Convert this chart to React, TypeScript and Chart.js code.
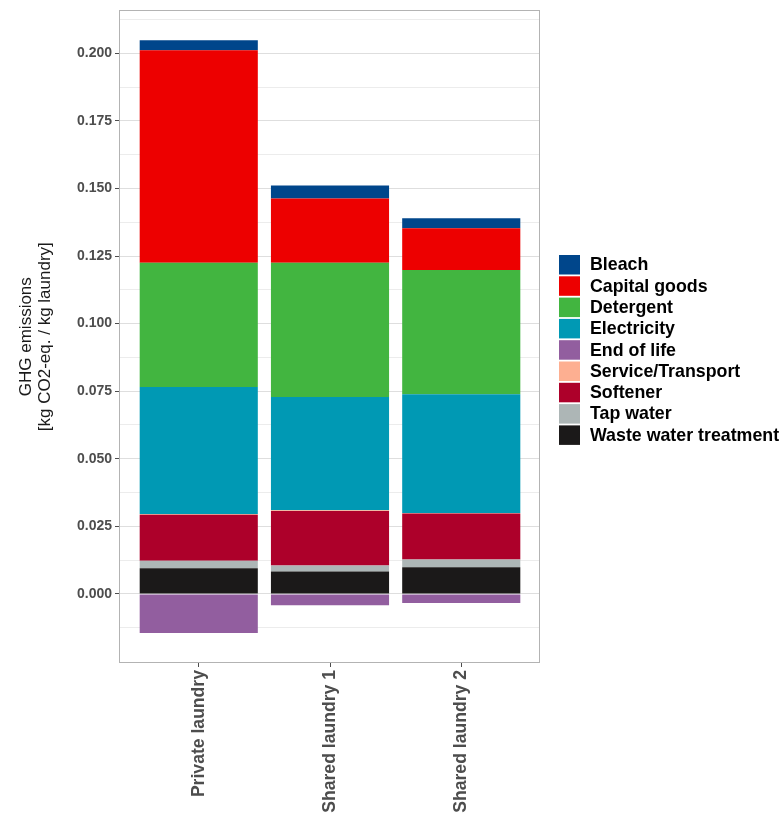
import React, { useEffect, useRef } from 'react';
import { Chart, registerables } from 'chart.js';

Chart.register(...registerables);

// ---- Data ----
const categories = ['Private laundry', 'Shared laundry 1', 'Shared laundry 2'];

const wasteWater = [0.0095, 0.0083, 0.0099];
const tapWater = [0.0028, 0.0022, 0.0028];
const softener = [0.017, 0.0202, 0.017];
const serviceTransport = [0.0003, 0.0002, 0.0002];
const electricity = [0.0469, 0.0419, 0.044];
const detergent = [0.046, 0.0497, 0.0459];
const capitalGoods = [0.0786, 0.0238, 0.0155];
const bleach = [0.0037, 0.0048, 0.0037];
const endOfLife = [-0.0145, -0.0042, -0.0034];

const majorTickValues = [0, 0.025, 0.05, 0.075, 0.1, 0.125, 0.15, 0.175, 0.2];
const majorTickLabels = ['0.000', '0.025', '0.050', '0.075', '0.100', '0.125', '0.150', '0.175', '0.200'];
const minorTickValues = [-0.0125, 0.0125, 0.0375, 0.0625, 0.0875, 0.1125, 0.1375, 0.1625, 0.1875, 0.2125];

const legendOrder = [
  'Bleach',
  'Capital goods',
  'Detergent',
  'Electricity',
  'End of life',
  'Service/Transport',
  'Softener',
  'Tap water',
  'Waste water treatment',
];

const colors: Record<string, string> = {
  Bleach: '#00468B',
  'Capital goods': '#ED0000',
  Detergent: '#42B540',
  Electricity: '#0099B4',
  'End of life': '#925E9F',
  'Service/Transport': '#FDAF91',
  Softener: '#AD002A',
  'Tap water': '#ADB6B6',
  'Waste water treatment': '#1B1919',
};

// stacking order, bottom to top
const seriesStack: [string, number[]][] = [
  ['Waste water treatment', wasteWater],
  ['Tap water', tapWater],
  ['Softener', softener],
  ['Service/Transport', serviceTransport],
  ['Electricity', electricity],
  ['Detergent', detergent],
  ['Capital goods', capitalGoods],
  ['Bleach', bleach],
  ['End of life', endOfLife],
];

const FONT = '"Liberation Sans", Arial, Helvetica, sans-serif';

const isMajor = (v: number) => majorTickValues.some((m) => Math.abs(m - v) < 1e-9);

const panelPlugin = {
  id: 'panelBorder',
  afterDraw(chart: any) {
    const { ctx, chartArea } = chart;
    ctx.save();
    ctx.strokeStyle = '#b3b3b3';
    ctx.lineWidth = 1;
    ctx.strokeRect(
      Math.round(chartArea.left) - 0.5,
      Math.round(chartArea.top) - 0.5,
      Math.round(chartArea.right - chartArea.left),
      Math.round(chartArea.bottom - chartArea.top) + 1
    );
    ctx.restore();
  },
};

const legendPlugin = {
  id: 'sideLegend',
  afterDraw(chart: any) {
    const { ctx, chartArea } = chart;
    ctx.save();
    const x0 = chartArea.right + 19;
    const y0 = 255;
    const step = 21.3;
    ctx.font = `bold 17.8px ${FONT}`;
    ctx.textBaseline = 'middle';
    ctx.textAlign = 'left';
    legendOrder.forEach((name, i) => {
      const y = y0 + i * step;
      ctx.fillStyle = colors[name];
      ctx.fillRect(x0, y, 21, 19.5);
      ctx.fillStyle = '#000000';
      ctx.fillText(name, x0 + 31, y + 10.5);
    });
    ctx.restore();
  },
};

export default function App() {
  const canvasRef = useRef<HTMLCanvasElement | null>(null);

  useEffect(() => {
    if (!canvasRef.current) return;
    const datasets = seriesStack.map(([name, vals]) => ({
      label: name,
      data: vals.map((v, i) => ({ x: i + 1, y: v })),
      backgroundColor: colors[name],
      borderWidth: 0,
      barPercentage: 0.9,
      categoryPercentage: 1,
    }));

    const chart = new Chart(canvasRef.current, {
      type: 'bar',
      data: { datasets },
      plugins: [panelPlugin, legendPlugin],
      options: {
        animation: false,
        responsive: true,
        maintainAspectRatio: false,
        layout: { padding: { top: 11, right: 242, bottom: 0, left: 0 } },
        plugins: {
          legend: { display: false },
          tooltip: { enabled: false },
        },
        scales: {
          x: {
            type: 'linear',
            stacked: true,
            min: 0.4,
            max: 3.6,
            offset: false,
            afterBuildTicks: (scale: any) => {
              scale.ticks = categories.map((_, i) => ({ value: i + 1 }));
            },
            afterFit: (scale: any) => {
              scale.height = 153;
            },
            grid: {
              display: true,
              offset: false,
              drawOnChartArea: false,
              drawTicks: true,
              tickLength: 5,
              tickColor: '#4d4d4d',
              tickWidth: 1,
            },
            border: { display: false },
            ticks: {
              autoSkip: false,
              maxRotation: 90,
              minRotation: 90,
              padding: 3,
              color: '#4d4d4d',
              font: { family: FONT, size: 17.6, weight: 'bold' },
              callback: (v: any) => {
                const idx = Math.round(Number(v)) - 1;
                return categories[idx] ?? '';
              },
            },
          },
          y: {
            type: 'linear',
            stacked: true,
            min: -0.0252,
            max: 0.2155,
            afterBuildTicks: (scale: any) => {
              const all = [...majorTickValues, ...minorTickValues].sort((a, b) => a - b);
              scale.ticks = all.map((v) => ({ value: v }));
            },
            afterFit: (scale: any) => {
              scale.width = 120;
            },
            grid: {
              color: (ctx: any) => (ctx.tick && isMajor(ctx.tick.value) ? '#dedede' : '#ececec'),
              lineWidth: 1,
              drawTicks: true,
              tickLength: 5,
              tickColor: (ctx: any) => (ctx.tick && isMajor(ctx.tick.value) ? '#4d4d4d' : 'rgba(0,0,0,0)'),
            },
            border: { display: false },
            ticks: {
              padding: 3,
              color: '#4d4d4d',
              font: { family: FONT, size: 14, weight: 'bold' },
              callback: (v: any) => {
                const idx = majorTickValues.findIndex((m) => Math.abs(m - Number(v)) < 1e-9);
                return idx >= 0 ? majorTickLabels[idx] : '';
              },
            },
            title: {
              display: true,
              text: ['GHG emissions', '[kg CO2-eq. / kg laundry]'],
              color: '#1a1a1a',
              font: { family: FONT, size: 17, weight: 'normal', lineHeight: 1.1 },
              padding: { top: 17, bottom: 0 },
            },
          },
        },
      } as any,
    });
    return () => chart.destroy();
  }, []);

  return (
    <div style={{ position: 'absolute', left: 0, top: 0, width: 782, height: 815, background: '#ffffff' }}>
      <canvas ref={canvasRef} />
    </div>
  );
}
